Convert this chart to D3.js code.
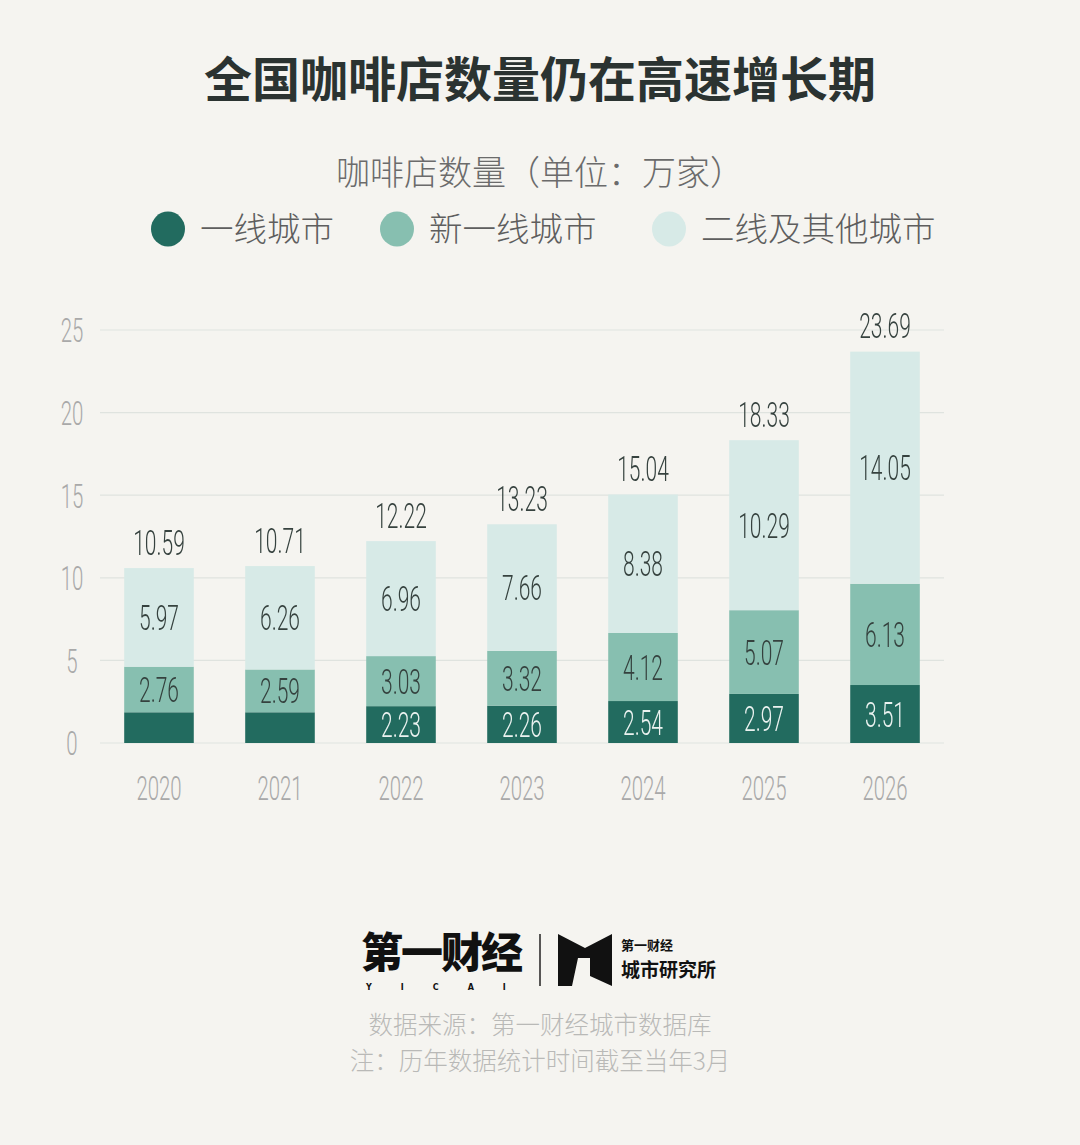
<!DOCTYPE html>
<html>
<head>
<meta charset="utf-8">
<script src="https://cdn.jsdelivr.net/npm/d3@7"></script>
<style>
  html, body { margin: 0; padding: 0; background: #f5f4f0; }
  svg { display: block; }
  .num { opacity: 0.99; }
</style>
</head>
<body>
<svg id="chart"></svg>
<script>
// Data (万家)
const years = ["2020", "2021", "2022", "2023", "2024", "2025", "2026"];
const firstTier = [1.86, 1.86, 2.23, 2.26, 2.54, 2.97, 3.51];
const newFirstTier = [2.76, 2.59, 3.03, 3.32, 4.12, 5.07, 6.13];
const otherCities = [5.97, 6.26, 6.96, 7.66, 8.38, 10.29, 14.05];
const totals = [10.59, 10.71, 12.22, 13.23, 15.04, 18.33, 23.69];
// first two years have no label on the dark segment
const firstTierLabelled = [false, false, true, true, true, true, true];
const yTicks = [0, 5, 10, 15, 20, 25];
const seriesNames = ["一线城市", "新一线城市", "二线及其他城市"];
const seriesColors = ["#226b5f", "#87bfb0", "#d7eae7"];

const W = 1080, H = 1145;
const CJK = "'Noto Sans CJK SC', 'Noto Sans', sans-serif";
const NUM = "Roboto, 'Liberation Sans', sans-serif";
const squeeze = 0.6; // condensed look for numbers

const svg = d3.select("#chart").attr("width", W).attr("height", H);
svg.append("rect").attr("width", W).attr("height", H).attr("fill", "#f5f4f0");

// Title + subtitle
svg.append("text")
    .attr("x", W / 2).attr("y", 97)
    .attr("text-anchor", "middle")
    .attr("font-family", CJK).attr("font-weight", 700).attr("font-size", 48)
    .attr("fill", "#2b3331")
    .text("全国咖啡店数量仍在高速增长期");

svg.append("text")
    .attr("x", W / 2).attr("y", 185)
    .attr("text-anchor", "middle")
    .attr("font-family", CJK).attr("font-weight", 300).attr("font-size", 34)
    .attr("fill", "#6b6b6b")
    .text("咖啡店数量（单位：万家）");

// Legend
const legendX = [168, 397, 669];
const legend = svg.append("g").selectAll("g")
    .data(seriesNames)
    .join("g")
    .attr("transform", (d, i) => "translate(" + legendX[i] + ",229)");
legend.append("ellipse").attr("rx", 17).attr("ry", 17.5)
    .attr("fill", (d, i) => seriesColors[i]);
legend.append("text")
    .attr("x", 32).attr("y", 12)
    .attr("font-family", CJK).attr("font-weight", 300).attr("font-size", 33.5)
    .attr("fill", "#5e5e5e")
    .text(d => d);

// Scales
const y = d3.scaleLinear().domain([0, 25]).range([743, 330]);
const x = d3.scaleBand().domain(years).range([100, 944]).paddingInner(0.425).paddingOuter(0.2);

// Grid lines
svg.append("g").selectAll("line")
    .data(yTicks)
    .join("line")
    .attr("x1", 100).attr("x2", 944)
    .attr("y1", d => y(d)).attr("y2", d => y(d))
    .attr("stroke", "#dfe3df").attr("stroke-width", 1.2);

// Y axis labels
const yAxis = svg.append("g").attr("class", "num").attr("transform", "translate(72,0)")
    .call(d3.axisLeft(y).tickValues(yTicks).tickSize(0).tickPadding(0));
yAxis.select(".domain").remove();
yAxis.selectAll(".tick text")
    .attr("text-anchor", "middle")
    .attr("x", 0)
    .attr("dy", "0.35em")
    .attr("transform", "scale(" + squeeze + ",1)")
    .attr("font-family", NUM).attr("font-weight", 300).attr("font-size", 34)
    .attr("fill", "#a9a9a9");

// X axis labels
const xAxis = svg.append("g").attr("class", "num").attr("transform", "translate(0,788)")
    .call(d3.axisBottom(x).tickSize(0).tickPadding(0));
xAxis.select(".domain").remove();
xAxis.selectAll(".tick text")
    .attr("y", 0).attr("dy", "0.35em")
    .attr("transform", "scale(" + squeeze + ",1)")
    .attr("font-family", NUM).attr("font-weight", 300).attr("font-size", 34)
    .attr("fill", "#a9a9a9");

// Stacked bars
const rows = years.map((yr, i) => ({ year: yr, s0: firstTier[i], s1: newFirstTier[i], s2: otherCities[i] }));
const stacked = d3.stack().keys(["s0", "s1", "s2"])(rows);

const layers = svg.append("g").selectAll("g")
    .data(stacked)
    .join("g")
    .attr("fill", (d, i) => seriesColors[i]);

layers.selectAll("rect")
    .data(d => d)
    .join("rect")
    .attr("x", d => x(d.data.year))
    .attr("width", x.bandwidth())
    .attr("y", d => y(d[1]))
    .attr("height", d => y(d[0]) - y(d[1]));

// Segment labels
const labels = svg.append("g").attr("class", "num");
stacked.forEach((layer, li) => {
    layer.forEach((d, i) => {
        if (li === 0 && !firstTierLabelled[i]) return;
        const v = d[1] - d[0];
        labels.append("text")
            .attr("transform", "translate(" + (x(d.data.year) + x.bandwidth() / 2) + "," + ((y(d[0]) + y(d[1])) / 2) + ") scale(" + squeeze + ",1)")
            .attr("text-anchor", "middle").attr("dy", "0.36em")
            .attr("font-family", NUM).attr("font-weight", 300).attr("font-size", 35)
            .attr("fill", li === 0 ? "#eef4f2" : "#34403d")
            .text(v.toFixed(2));
    });
});

// Total labels
svg.append("g").attr("class", "num").selectAll("text")
    .data(totals)
    .join("text")
    .attr("transform", (d, i) => "translate(" + (x(years[i]) + x.bandwidth() / 2) + "," + (y(d) - 26) + ") scale(" + squeeze + ",1)")
    .attr("text-anchor", "middle").attr("dy", "0.36em")
    .attr("font-family", NUM).attr("font-weight", 300).attr("font-size", 35)
    .attr("fill", "#34403d")
    .text(d => d.toFixed(2));

// Logos
const logo = svg.append("g");
logo.append("text")
    .attr("x", 441).attr("y", 968)
    .attr("text-anchor", "middle")
    .attr("font-family", CJK).attr("font-weight", 900).attr("font-size", 42)
    .attr("letter-spacing", -2)
    .attr("fill", "#111")
    .text("第一财经");
logo.append("text")
    .attr("x", 366).attr("y", 990)
    .attr("font-family", "'DejaVu Sans', sans-serif").attr("font-weight", 700).attr("font-size", 8)
    .attr("letter-spacing", 29)
    .attr("fill", "#111")
    .text("YICAI");
logo.append("line")
    .attr("x1", 540).attr("x2", 540).attr("y1", 934).attr("y2", 986)
    .attr("stroke", "#222").attr("stroke-width", 1.5);
logo.append("path")
    .attr("d", "M558,934 L585,948 L612,934 L612,986 L590,976 L590,958 L578,958 L572,986 L558,986 Z")
    .attr("fill", "#111");
logo.append("text")
    .attr("x", 621).attr("y", 950)
    .attr("font-family", CJK).attr("font-weight", 700).attr("font-size", 13)
    .attr("fill", "#111")
    .text("第一财经");
logo.append("text")
    .attr("x", 621).attr("y", 977)
    .attr("font-family", CJK).attr("font-weight", 700).attr("font-size", 19)
    .attr("fill", "#111")
    .text("城市研究所");

// Footer notes
svg.append("text")
    .attr("x", W / 2).attr("y", 1034)
    .attr("text-anchor", "middle")
    .attr("font-family", CJK).attr("font-weight", 300).attr("font-size", 24.5)
    .attr("fill", "#b9b9b7")
    .text("数据来源：第一财经城市数据库");
svg.append("text")
    .attr("x", W / 2).attr("y", 1070)
    .attr("text-anchor", "middle")
    .attr("font-family", CJK).attr("font-weight", 300).attr("font-size", 24.5)
    .attr("fill", "#b9b9b7")
    .text("注：历年数据统计时间截至当年3月");
</script>
</body>
</html>
